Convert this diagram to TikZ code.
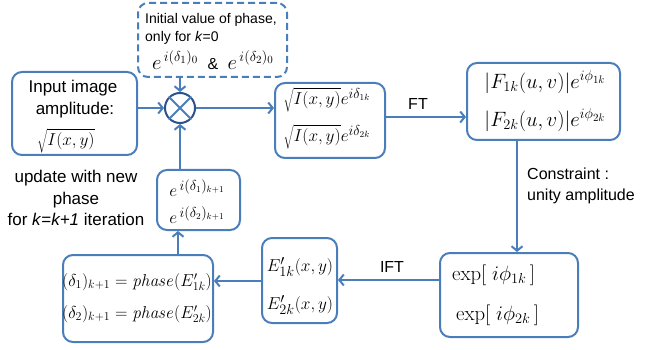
\documentclass[tikz,border=0pt]{standalone}
\usepackage[no-math]{fontspec}
\setmainfont{Liberation Sans}
\usetikzlibrary{arrows.meta}
\definecolor{lblue}{RGB}{74,126,187}
\definecolor{dblue}{RGB}{44,82,140}
\tikzset{
  blk/.style={draw=lblue, line width=2pt, rounded corners=10pt, inner sep=0pt},
  dblk/.style={blk, dash pattern=on 7pt off 4pt},
  arr/.style={draw=lblue, line width=2pt, -{Straight Barb[length=4.5pt,width=11pt,line width=2pt]}},
  lbl/.style={font=\fontsize{16}{19}\selectfont, align=center, inner sep=0pt},
  txt/.style={font=\fontsize{17}{21}\selectfont, inner sep=0pt},
  mth/.style={font=\fontsize{19}{23}\selectfont, inner sep=0pt},
}
\begin{document}
\begin{tikzpicture}[x=1pt,y=-1pt]
\useasboundingbox (0,0) rectangle (648,350);
% initial value (dashed)
\node[dblk, minimum width=149pt, minimum height=74pt] (init) at (212.5,40) {};
\node[lbl, anchor=west, font=\fontsize{14}{18}\selectfont, align=left] (initt) at (145,29)
  {Initial value of phase,\\only for \textit{k}=0};
\node[mth, font=\fontsize{21}{25}\selectfont] (initm) at (213,60) {$e^{\,i(\delta_1)_0}$ \,{\fontsize{16}{19}\selectfont\&}\, $e^{\,i(\delta_2)_0}$};
% input
\node[blk, minimum width=125pt, minimum height=83pt] (inp) at (74.5,113.5) {};
\node[txt] (inp1) at (73,88) {Input image};
\node[txt] (inp2) at (75,110) {amplitude:};
\node[mth, font=\fontsize{17}{21}\selectfont] (inp3) at (66,141) {$\sqrt{I(x,y)}$};
% multiplier
\node[circle, draw=dblue, line width=2pt, minimum size=30pt, inner sep=0pt] (mul) at (180,108) {};
\draw[lblue, line width=2pt] (mul.45) -- (mul.225) (mul.135) -- (mul.315);
% sqrt box
\node[blk, minimum width=110pt, minimum height=75pt] (sq) at (330,120.5) {};
\node[mth] (sq1) at (327,100) {$\sqrt{I(x,y)}e^{i\delta_{1k}}$};
\node[mth] (sq2) at (327,137) {$\sqrt{I(x,y)}e^{i\delta_{2k}}$};
% F box
\node[blk, minimum width=153pt, minimum height=77pt] (F) at (543.5,101.5) {};
\node[mth, font=\fontsize{21}{25}\selectfont] (F1) at (545,82) {$\bigl|F_{1k}(u,v)\bigr|e^{i\phi_{1k}}$};
\node[mth, font=\fontsize{21}{25}\selectfont] (F2) at (545,120) {$\bigl|F_{2k}(u,v)\bigr|e^{i\phi_{2k}}$};
% exp box
\node[blk, minimum width=138pt, minimum height=84pt] (ex) at (509,295) {};
\node[mth, anchor=west, font=\fontsize{20}{24}\selectfont] (ex1) at (452,275) {$\exp[\;i\phi_{1k}\,]$};
\node[mth, anchor=west, font=\fontsize{20}{24}\selectfont] (ex2) at (456,315) {$\exp[\;i\phi_{2k}\,]$};
% E box
\node[blk, minimum width=75pt, minimum height=85pt] (E) at (299.5,280.5) {};
\node[mth] (E1) at (300,267) {$E'_{1k}(x,y)$};
\node[mth] (E2) at (300,305) {$E'_{2k}(x,y)$};
% phase box
\node[blk, minimum width=150pt, minimum height=87pt] (ph) at (138,298.5) {};
\node[mth, font=\fontsize{17.5}{22}\selectfont] (ph1) at (137,282) {$(\delta_1)_{k+1}=\mathit{phase}(E'_{1k})$};
\node[mth, font=\fontsize{17.5}{22}\selectfont] (ph2) at (137,314) {$(\delta_2)_{k+1}=\mathit{phase}(E'_{2k})$};
% update box
\node[blk, minimum width=83pt, minimum height=60pt] (up) at (198.5,200) {};
\node[mth] (up1) at (197,188) {$e^{\,i(\delta_1)_{k+1}}$};
\node[mth] (up2) at (197,215) {$e^{\,i(\delta_2)_{k+1}}$};
% labels
\node[lbl] (ft) at (418,104) {FT};
\node[lbl] (ift) at (392,267) {IFT};
\node[lbl, anchor=west, align=left, font=\fontsize{16}{21}\selectfont] (con) at (527,186) {Constraint :\\unity amplitude};
\node[lbl, font=\fontsize{17}{21.5}\selectfont] (upd) at (76,198) {update with new\\phase\\for \textit{k}=\textit{k+1} iteration};
% connectors
\draw[arr] (init.south -| mul.north) -- (mul.north);
\draw[arr] (inp.east |- mul.west) -- (mul.west);
\draw[arr] (mul.east) -- (sq.west |- mul.east);
\draw[arr] (sq.east |- 0,117) -- (F.west |- 0,117);
\draw[arr] (F.south -| 517,0) -- (ex.north -| 517,0);
\draw[arr] (ex.west |- 0,280) -- (E.east |- 0,280);
\draw[arr] (E.west |- 0,281) -- (ph.east |- 0,281);
\draw[arr] (ph.north -| 178,0) -- (up.south -| 178,0);
\draw[arr] (up.north -| mul.south) -- (mul.south);
\end{tikzpicture}
\end{document}
